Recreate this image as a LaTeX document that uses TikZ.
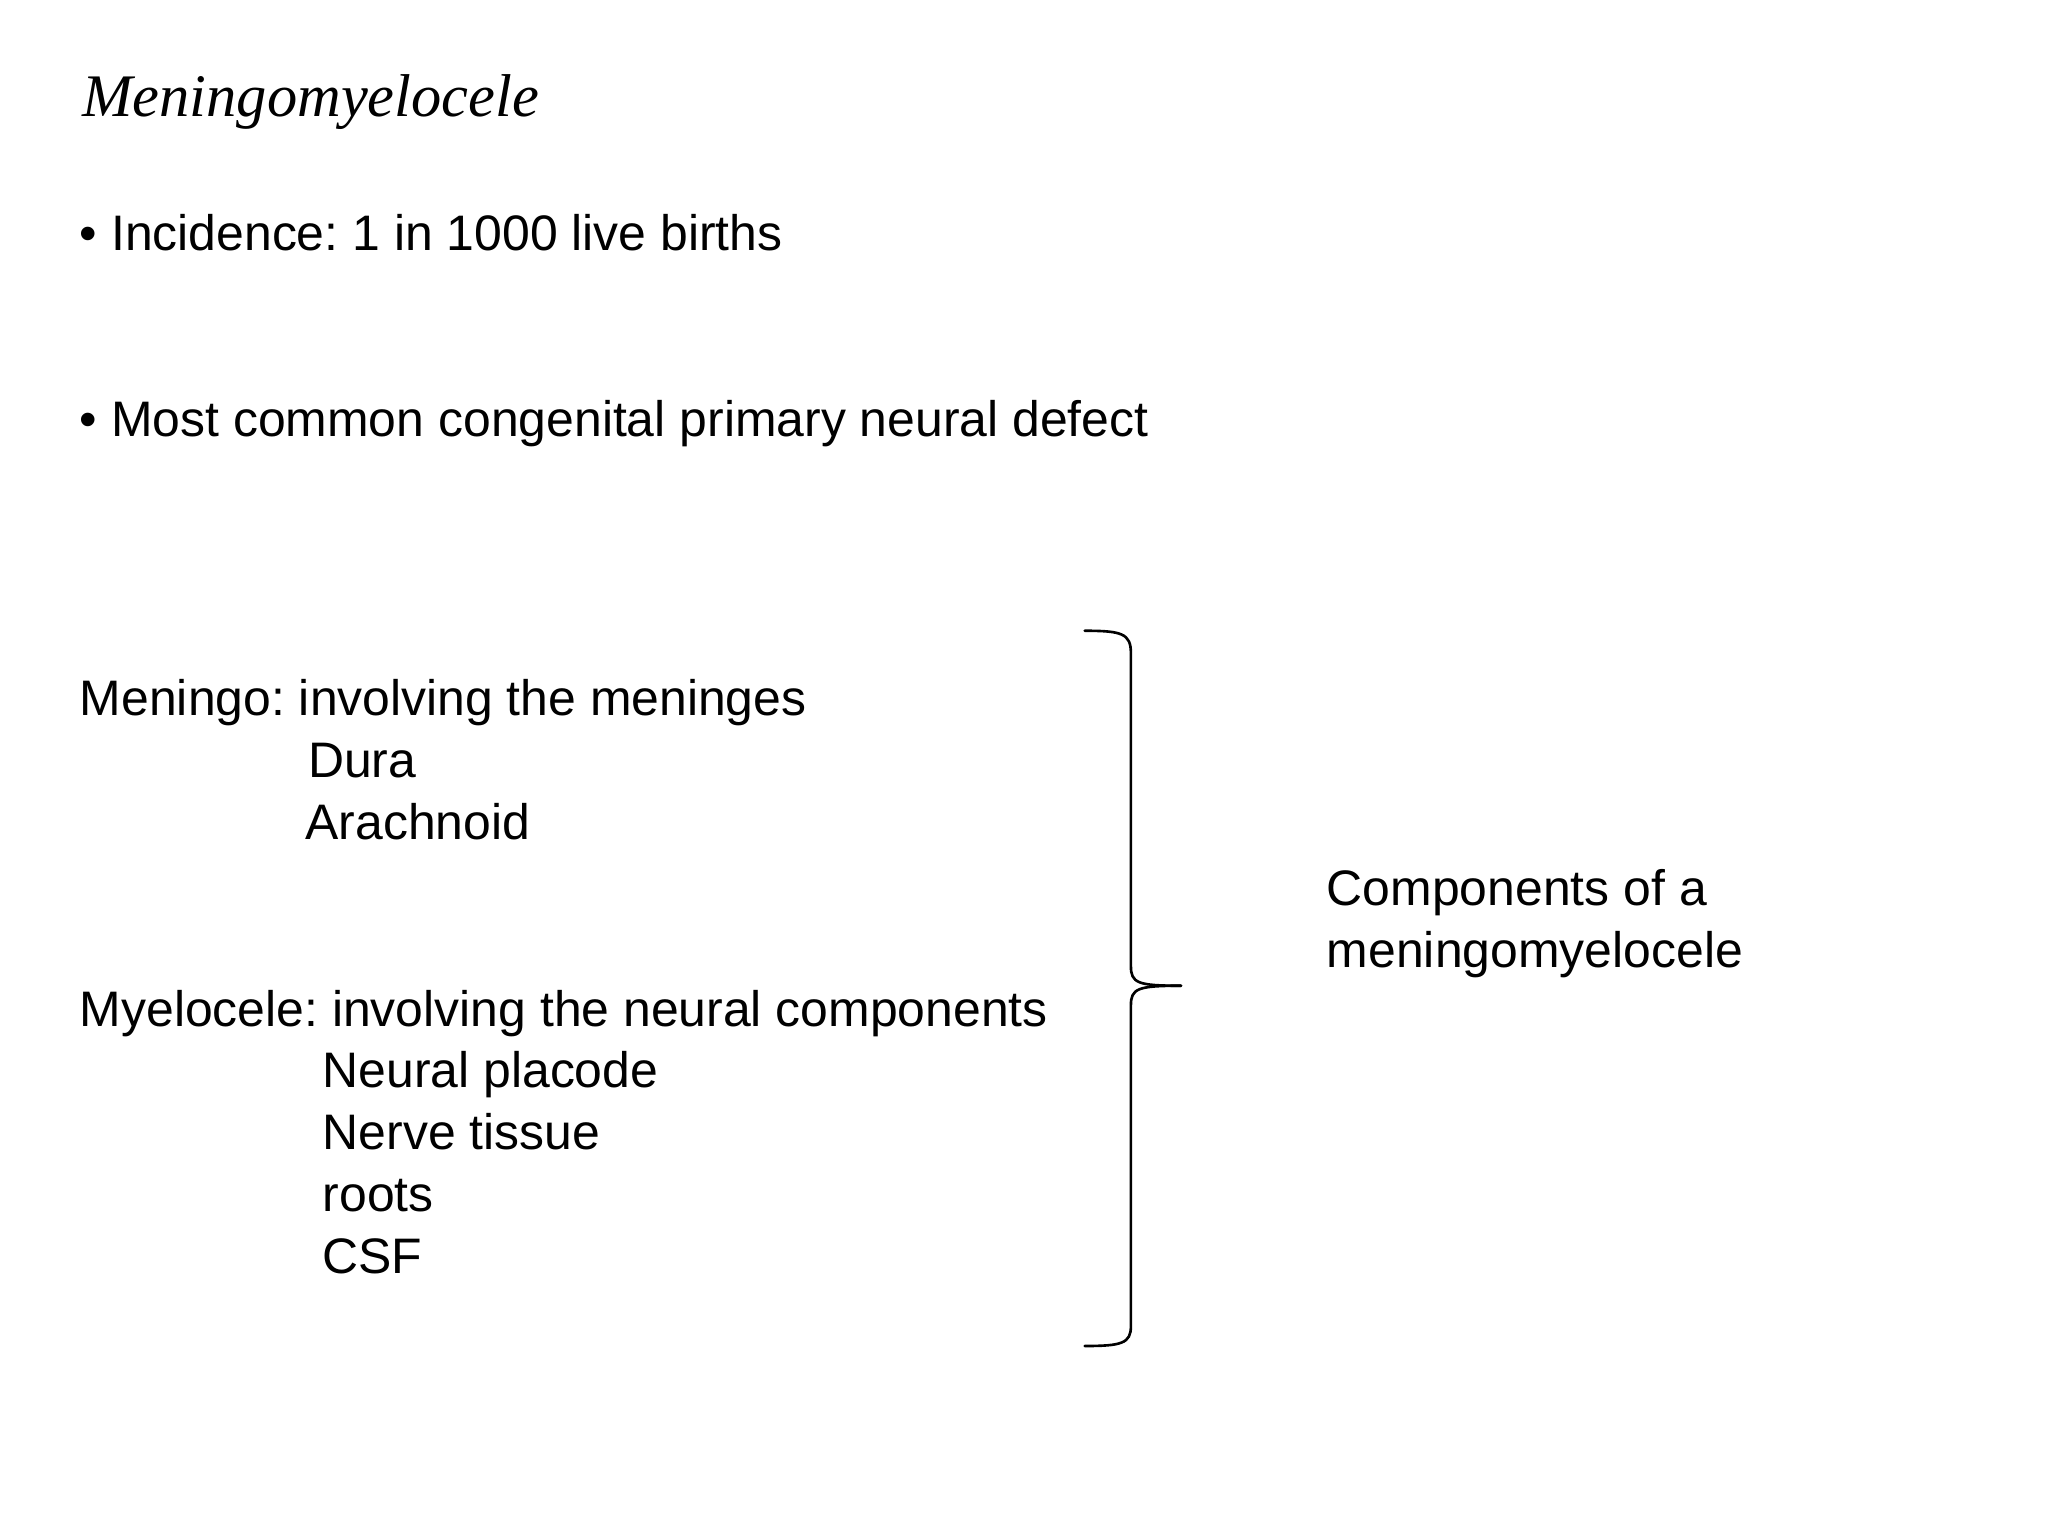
\documentclass[tikz,border=0pt]{standalone}
\usepackage{fontspec}
\setmainfont{Liberation Sans}
\newfontfamily\titlefont{Liberation Serif}
\frenchspacing
\begin{document}
\begin{tikzpicture}[x=0.0132cm,y=-0.0132cm,
  txt/.style={anchor=base west,inner sep=0pt,font=\fontsize{14.2}{17}\selectfont},
  brace/.style={line width=0.75pt,line cap=round}]
\useasboundingbox (0,0) rectangle (1552,1164);
\node[anchor=base west,inner sep=0pt,font=\titlefont\itshape\fontsize{17.2}{20}\selectfont] (title) at (62,88) {Meningomyelocele};
\node[txt] (b1) at (60,190) {• Incidence: 1 in 1000 live births};
\node[txt] (b2) at (60,331) {• Most common congenital primary neural defect};
\node[txt] (men) at (60,542) {Meningo: involving the meninges};
\node[txt] (dura) at (233,589) {Dura};
\node[txt] (arach) at (231,636) {Arachnoid};
\node[txt] (mye) at (60,778) {Myelocele: involving the neural components};
\node[txt] (np) at (244,824) {Neural placode};
\node[txt] (nt) at (244,871) {Nerve tissue};
\node[txt] (roots) at (244,918) {roots};
\node[txt] (csf) at (244,965) {CSF};
\node[txt] (c1) at (1005,686) {Components of a};
\node[txt] (c2) at (1005,733) {meningomyelocele};
\coordinate (bt) at (822,478);
\coordinate (bb) at (822,1020);
\coordinate (tip) at (895,747);
\draw[brace] (bt) .. controls (850,478) and (857,480) .. (857,495)
  -- (857,732) .. controls (857,745) and (862,747) .. (tip);
\draw[brace] (tip) .. controls (862,747) and (857,749) .. (857,762)
  -- (857,1005) .. controls (857,1018) and (850,1020) .. (bb);
\end{tikzpicture}
\end{document}
